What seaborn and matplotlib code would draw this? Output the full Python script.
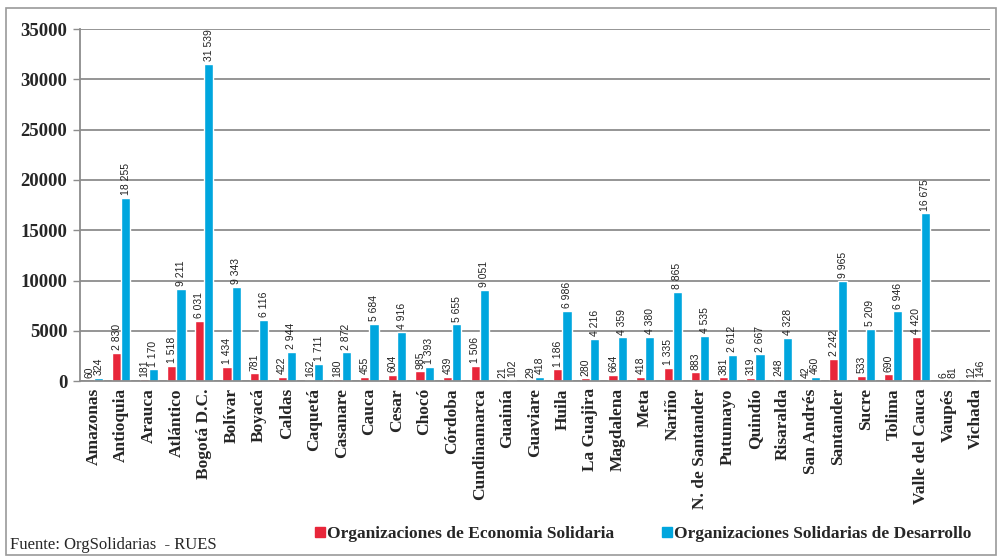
import matplotlib
matplotlib.use("Agg")
import matplotlib.pyplot as plt
import seaborn as sns
import pandas as pd
import numpy as np
from matplotlib.patches import Rectangle
from matplotlib.lines import Line2D

departamentos = ["Amazonas", "Antioquia", "Arauca", "Atlántico", "Bogotá D.C.", "Bolívar", "Boyacá",
                 "Caldas", "Caquetá", "Casanare", "Cauca", "Cesar", "Chocó", "Córdoba", "Cundinamarca",
                 "Guainía", "Guaviare", "Huila", "La Guajira", "Magdalena", "Meta", "Nariño",
                 "N. de Santander", "Putumayo", "Quindío", "Risaralda", "San Andrés", "Santander",
                 "Sucre", "Tolima", "Valle del Cauca", "Vaupés", "Vichada"]
economia_solidaria = [60, 2830, 181, 1518, 6031, 1434, 781, 422, 162, 180, 455, 604, 985, 439, 1506,
                      21, 29, 1186, 280, 664, 418, 1335, 883, 381, 319, 248, 42, 2242, 533, 690, 4420, 6, 12]
solidarias_desarrollo = [324, 18255, 1170, 9211, 31539, 9343, 6116, 2944, 1711, 2872, 5684, 4916, 1393,
                         5655, 9051, 102, 418, 6986, 4216, 4359, 4380, 8865, 4535, 2612, 2667, 4328, 460,
                         9965, 5209, 6946, 16675, 81, 146]
serie_names = ["Organizaciones de Economia Solidaria", "Organizaciones Solidarias de Desarrollo"]
y_ticks = [0, 5000, 10000, 15000, 20000, 25000, 30000, 35000]

colors = ["#E8263A", "#00A6DE"]

df = pd.DataFrame({
    "dep": departamentos * 2,
    "serie": [serie_names[0]] * len(departamentos) + [serie_names[1]] * len(departamentos),
    "valor": economia_solidaria + solidarias_desarrollo,
})

sns.set_theme(style="white")
serif = ["Liberation Serif", "DejaVu Serif"]
plt.rcParams["font.family"] = ["DejaVu Sans"]

fig = plt.figure(figsize=(10.02, 5.59), dpi=100)
ax = fig.add_axes([0.0798, 0.318, 0.908, 0.630])

sns.barplot(data=df, x="dep", y="valor", hue="serie", order=departamentos, hue_order=serie_names,
            palette=colors, width=0.66, gap=0.0, ax=ax, legend=False, saturation=1, errorbar=None)

def fmt(v):
    return f"{v:,}".replace(",", " ")

for cont in ax.containers:
    labels = [fmt(int(b.get_height())) for b in cont]
    ax.bar_label(cont, labels=labels, rotation=90, padding=2, fontsize=7.5,
                 family=["Liberation Sans", "DejaVu Sans"], color="#222222")

ax.set_ylim(0, 35000)
ax.set_xlim(-0.5, len(departamentos) - 0.5)
ax.set_yticks(y_ticks)
ax.set_yticklabels([str(t) for t in y_ticks], family=serif, fontweight="bold", fontsize=13.5)
ax.yaxis.grid(True, color="#8c8c8c", linewidth=1.3)
ax.set_axisbelow(True)
ax.set_xlabel("")
ax.set_ylabel("")
ax.set_xticks(range(len(departamentos)))
ax.set_xticklabels(departamentos, rotation=90, family=serif, fontweight="bold", fontsize=12.5)
ax.tick_params(axis="x", length=0, pad=5)
ax.set_xticks(np.arange(-0.5, len(departamentos), 1), minor=True)
ax.tick_params(axis="x", which="minor", length=5, color="#8c8c8c", width=1, direction="out")
ax.tick_params(axis="y", length=5, color="#8c8c8c", width=1, direction="out", left=True, pad=4)
for s in ["top", "right"]:
    ax.spines[s].set_visible(False)
for s in ["left", "bottom"]:
    ax.spines[s].set_color("#8c8c8c")
    ax.spines[s].set_linewidth(1.3)

handles = [Line2D([0], [0], marker="s", linestyle="", markersize=7, markerfacecolor=c, markeredgecolor=c)
           for c in colors]
fig.legend(handles, serie_names, loc="center left", bbox_to_anchor=(0.298, 0.045), ncol=2, frameon=False,
           prop={"family": serif, "weight": "bold", "size": 12.5}, handletextpad=0.05, columnspacing=2.7,
           handlelength=0.7)

fig.text(0.010, 0.025, "Fuente: OrgSolidarias  - RUES", family=serif, fontsize=12, va="center", ha="left")

fig.patches.append(Rectangle((0.006, 0.008), 0.988, 0.978, transform=fig.transFigure, fill=False,
                             edgecolor="#9a9a9a", linewidth=1.2))

fig.savefig("out.png", dpi=100)
